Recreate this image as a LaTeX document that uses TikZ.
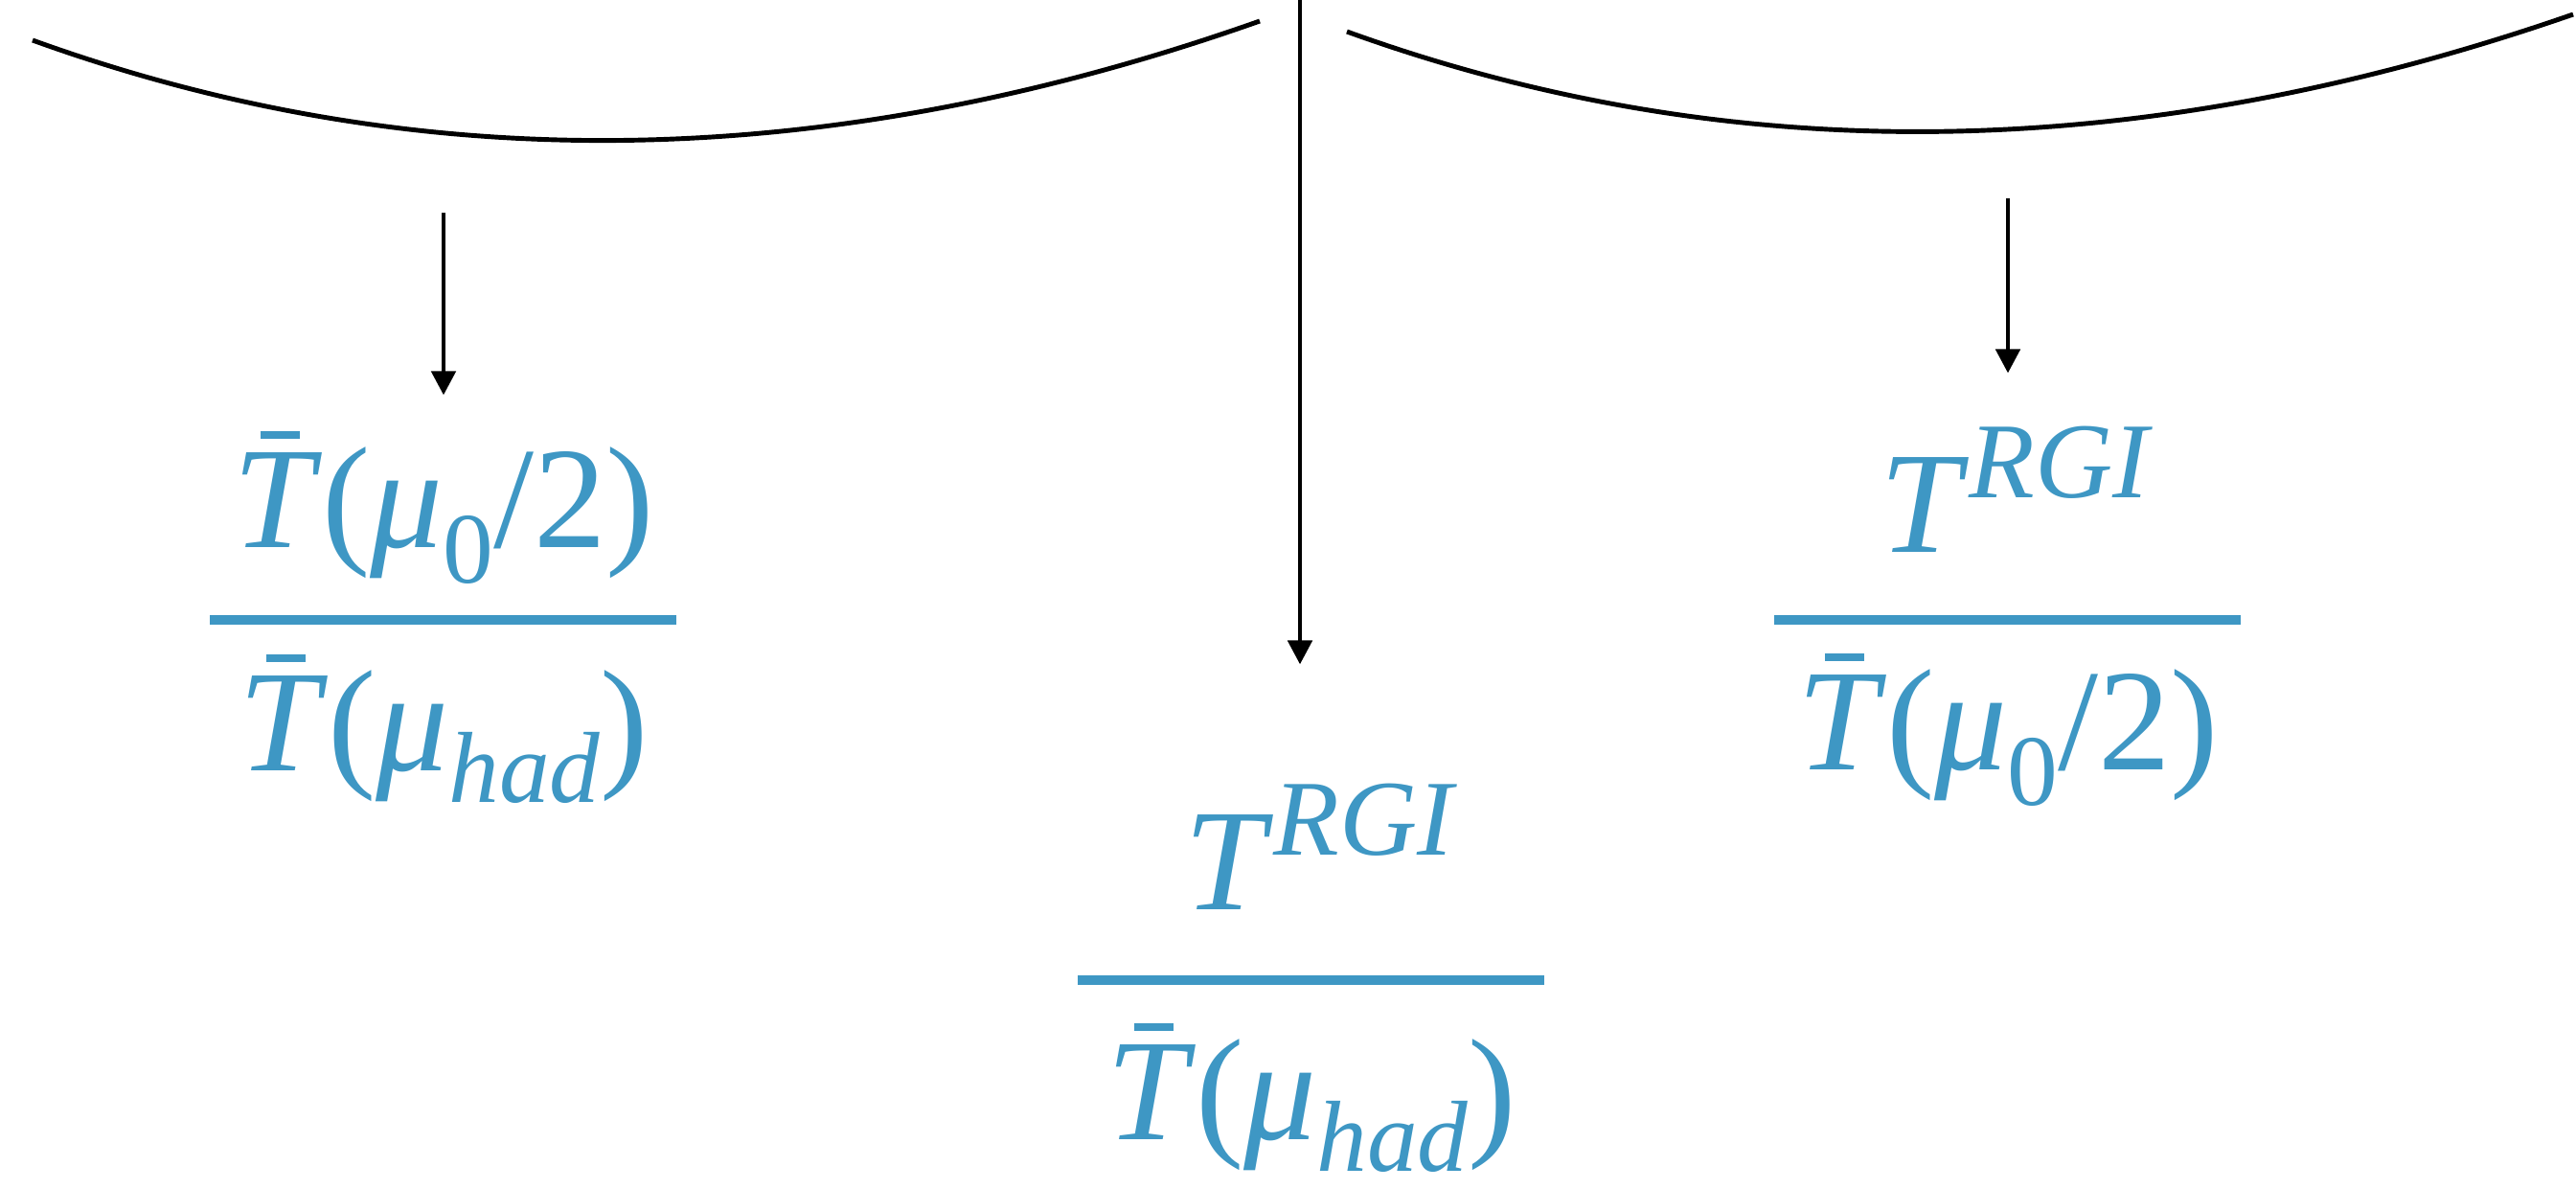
\documentclass[tikz,border=0pt]{standalone}
\usepackage{fontspec}
\setmainfont{Liberation Serif}
\usepackage{xcolor}
\usetikzlibrary{positioning,arrows.meta,calc}
\definecolor{fracblue}{HTML}{3E97C4}
% T with a bar, and lowered / raised small text
\newcommand{\Tbar}{\rlap{\hspace{0.19em}\rule[0.75em]{0.27em}{0.05em}}\textit{T}}
\newcommand{\lowsub}[2]{\raisebox{-#1em}{\fontsize{30}{30}\selectfont #2}}
\newcommand{\highsup}[1]{\raisebox{0.373em}{\fontsize{32}{32}\selectfont\itshape #1}}

\begin{document}
\begin{tikzpicture}[
  every node/.style={font=\fontsize{43}{50}\selectfont},
  fracterm/.style={text=fracblue, inner sep=0pt, anchor=base},
  fracbar/.style ={draw=fracblue, line width=3pt},
  arcline/.style ={line width=1.4pt},
  arr/.style     ={-{Triangle[length=0.25cm, width=0.25cm]}, line width=1.4pt}]

\useasboundingbox (0,0) rectangle (26.89,12.40);

%% ── Top: two arcs ────────────────────────────────────────────────
\draw[arcline] (0.34,11.98) .. controls (4.38,10.52) and (8.65,10.59) .. (13.15,12.18);
\draw[arcline] (14.06,12.07) .. controls (18.07,10.62) and (22.34,10.68) .. (26.86,12.25);

%% ── Left fraction ────────────────────────────────────────────────
\node[fracterm] (lnum) at (4.63,6.69) {\Tbar(\textit{μ}\lowsub{0.25}{0}/2)};
\coordinate (lbarw) at (2.19,5.93);
\coordinate (lbare) at (7.06,5.93);
\node[fracterm] (lden) at (4.63,4.36) {\Tbar(\textit{μ}\lowsub{0.22}{\itshape had})};
\draw[fracbar] (lbarw) -- (lbare);

%% ── Centre fraction ──────────────────────────────────────────────
\node[fracterm] (cnum) at (13.77,2.91) {\textit{T}\highsup{RGI}};
\coordinate (cbarw) at (11.25,2.17);
\coordinate (cbare) at (16.12,2.17);
\node[fracterm] (cden) at (13.69,0.51) {\Tbar(\textit{μ}\lowsub{0.22}{\itshape had})};
\draw[fracbar] (cbarw) -- (cbare);

%% ── Right fraction ───────────────────────────────────────────────
\node[fracterm] (rnum) at (21.03,6.64) {\textit{T}\highsup{RGI}};
\coordinate (rbarw) at (18.52,5.93);
\coordinate (rbare) at (23.39,5.93);
\node[fracterm] (rden) at (20.96,4.37) {\Tbar(\textit{μ}\lowsub{0.25}{0}/2)};
\draw[fracbar] (rbarw) -- (rbare);

%% ── Arrows ───────────────────────────────────────────────────────
\coordinate (ltop) at (4.63,10.18);
\coordinate (ctop) at (13.57,12.40);
\coordinate (rtop) at (20.96,10.33);
\draw[arr, shorten >=0.37cm] (ltop) -- (ltop |- lnum.north);
\draw[arr, shorten >=1.24cm] (ctop) -- (ctop |- cnum.north);
\draw[arr, shorten >=0.55cm] (rtop) -- (rtop |- rnum.north);
\end{tikzpicture}
\end{document}
